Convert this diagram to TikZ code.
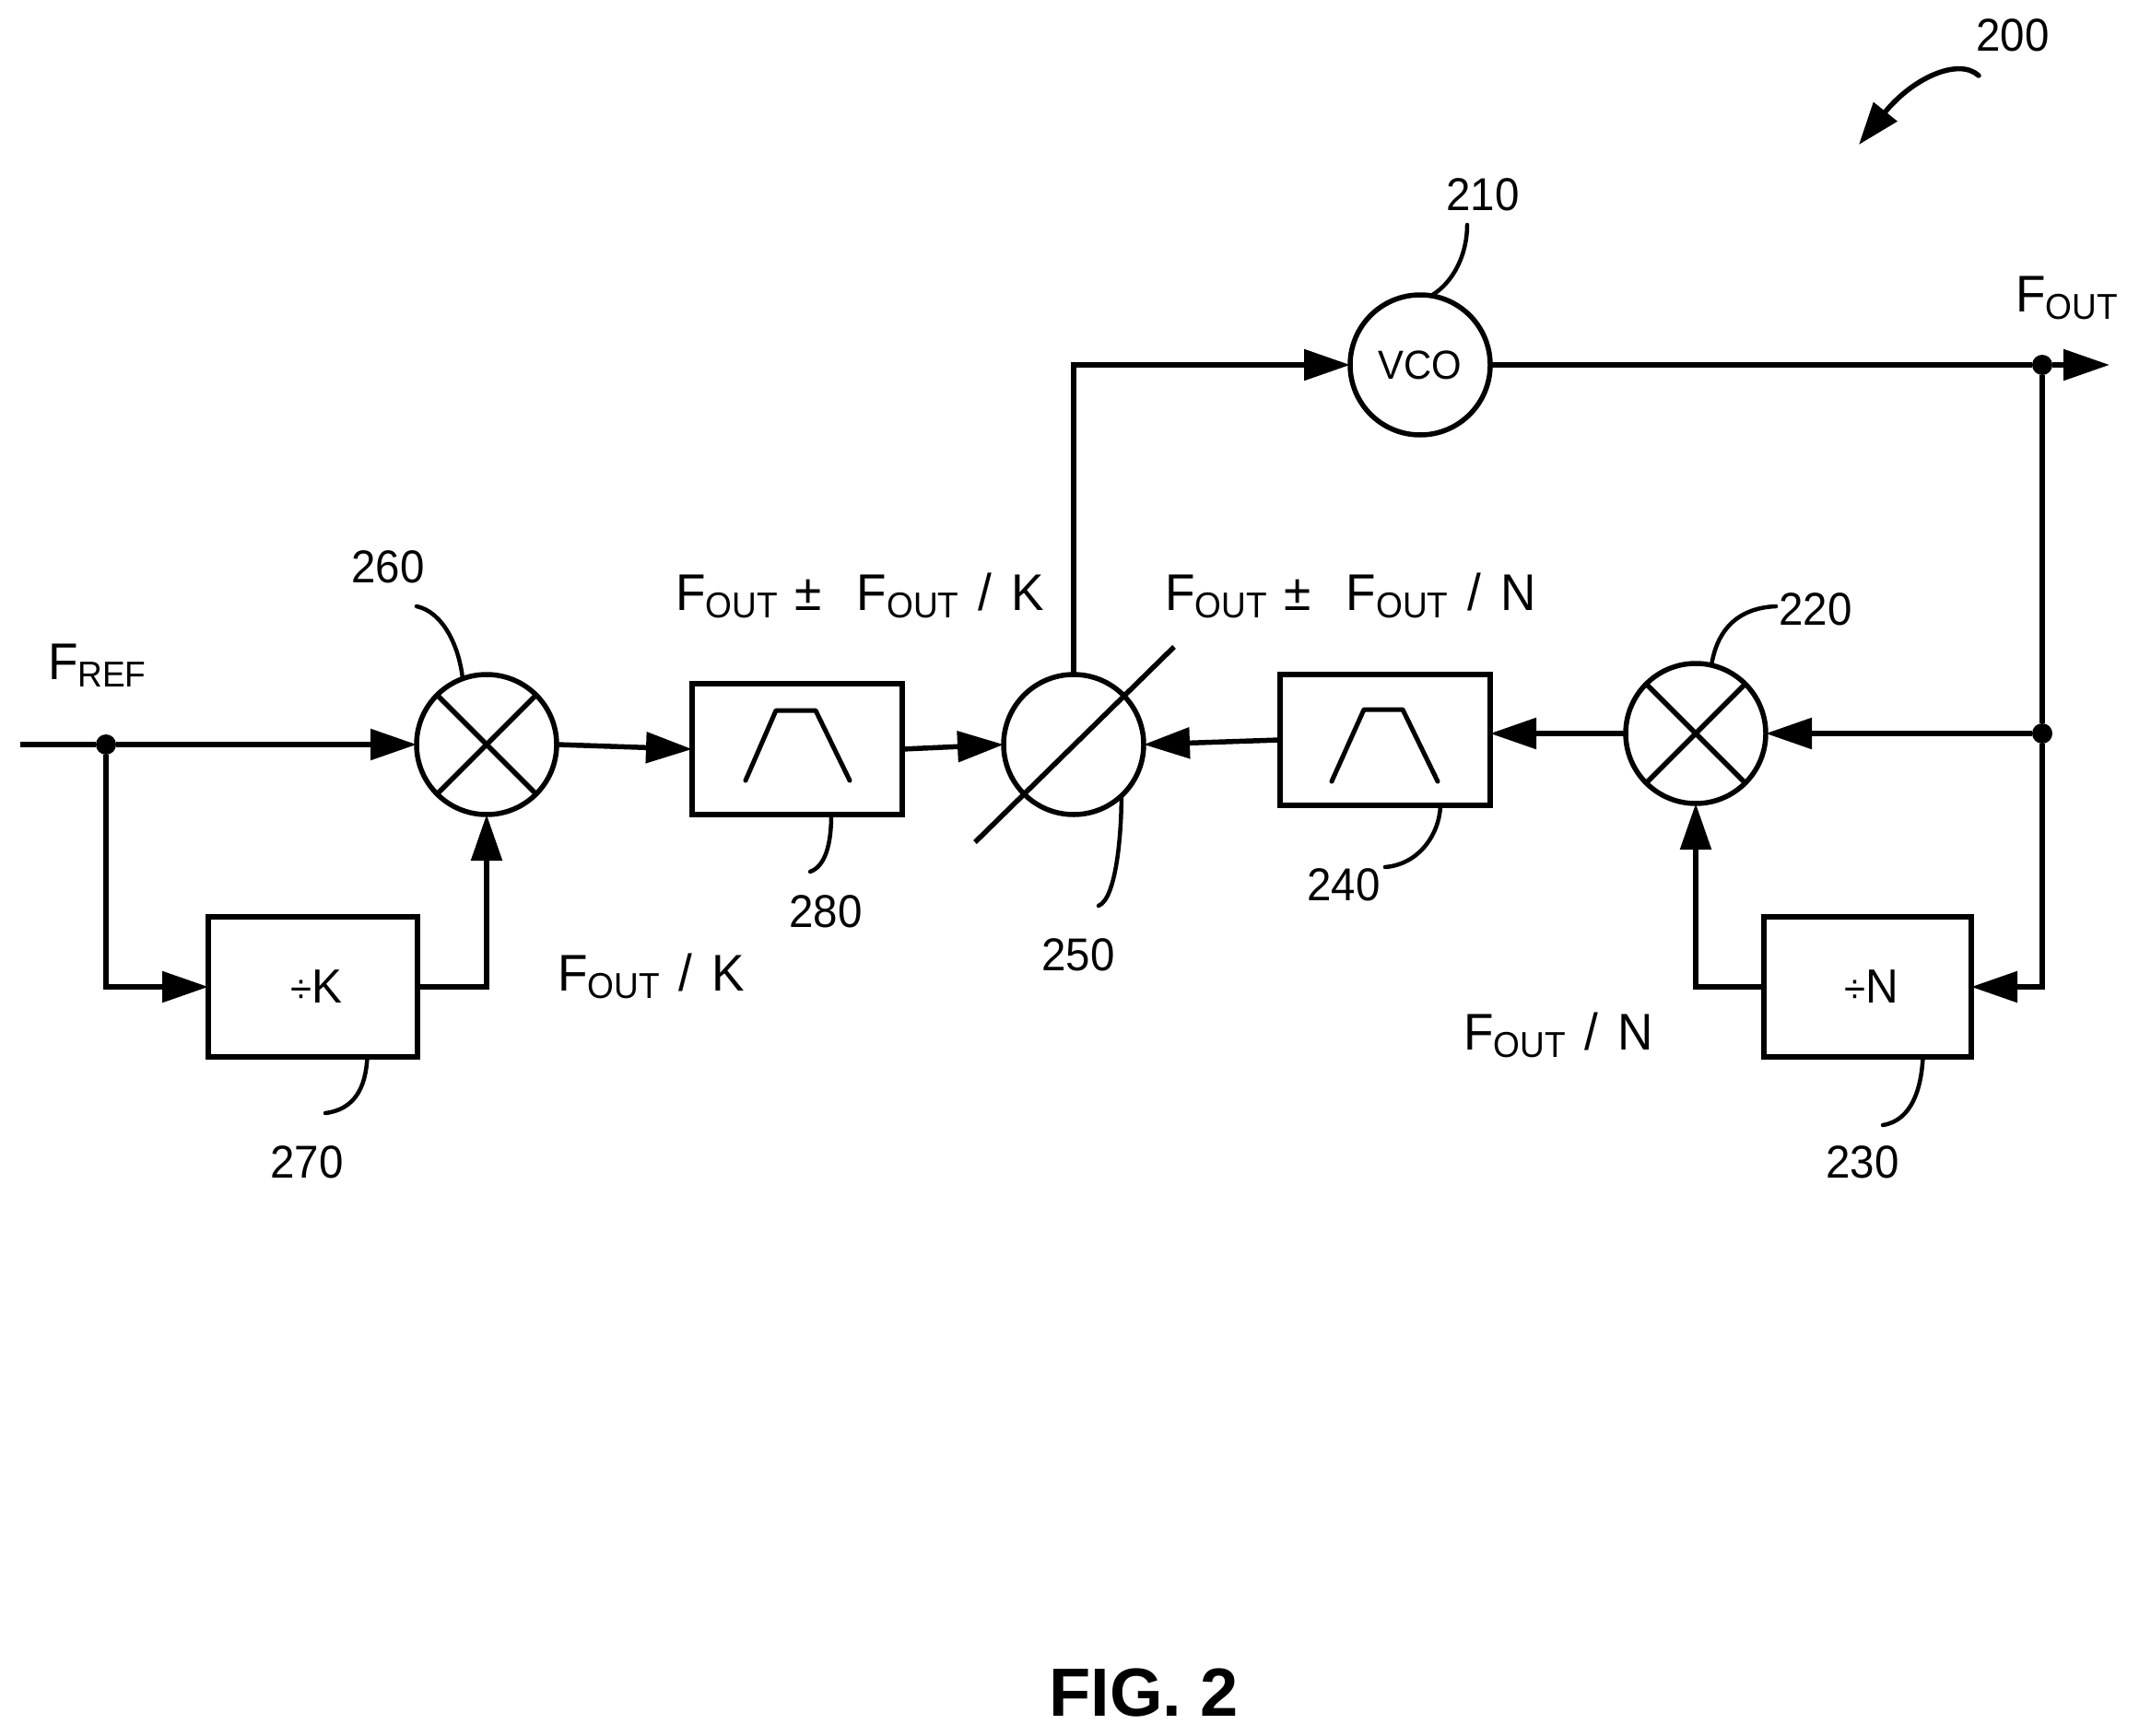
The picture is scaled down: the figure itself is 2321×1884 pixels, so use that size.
\documentclass[tikz,border=0pt]{standalone}
\usepackage{fontspec}
\setmainfont{Liberation Sans}
\newfontfamily\narrowf[FakeStretch=0.95]{Liberation Sans}
\usetikzlibrary{arrows.meta}
\newcommand{\mainsz}{\narrowf\fontsize{56}{60}\selectfont}
\newcommand{\fsub}[1]{\mainsz F\raisebox{-8pt}{\narrowf\fontsize{39}{40}\selectfont #1}}
\newcommand{\divby}[1]{\hspace{8pt}{\narrowf\fontsize{44}{46}\selectfont ÷}{\narrowf\fontsize{52}{54}\selectfont #1}}
\tikzset{
  wire/.style={line width=5.5pt},
  arr/.style={line width=5.5pt,-{Triangle[length=50pt,width=33pt]}},
  mixer/.style={circle,draw,line width=5.5pt,minimum size=152pt,inner sep=0pt,outer sep=0pt},
  block/.style={rectangle,draw,line width=6pt,inner sep=0pt,outer sep=0pt},
  joint/.style={circle,fill=black,minimum size=22pt,inner sep=0pt,outer sep=0pt},
  refnum/.style={inner sep=0pt,outer sep=0pt,font=\narrowf\fontsize{50}{54}\selectfont},
  signal/.style={inner sep=0pt,outer sep=0pt,anchor=base west},
  callout/.style={line width=4.5pt,line cap=round},
  passband/.style={line width=5pt,line cap=round,line join=round}
}
\begin{document}
\begin{tikzpicture}[x=1pt,y=-1pt]
\useasboundingbox (0,0) rectangle (2321,1884);
% components
\node[mixer] (mix260) at (528,808) {};
\node[mixer] (mix250) at (1165,808) {};
\node[mixer] (mix220) at (1840,796) {};
\node[mixer,font=\narrowf\fontsize{44}{46}\selectfont] (vco) at (1541,396) {VCO};
\node[block,minimum width=227pt,minimum height=152pt] (box270) at (339.5,1071) {\divby{K}};
\node[block,minimum width=228pt,minimum height=142pt] (box280) at (865,813) {};
\node[block,minimum width=228pt,minimum height=142pt] (box240) at (1503,803) {};
\node[block,minimum width=225pt,minimum height=152pt] (box230) at (2026.5,1071) {\divby{N}};
\node[joint] (dot1) at (115,808) {};
\node[joint] (dot2) at (2216,796) {};
\node[joint] (dot3) at (2216,396) {};
\coordinate (fin) at (22,808);
\coordinate (fout) at (2289,396);
% mixer crosses
\foreach \m in {mix260,mix220}{
  \draw[wire] (\m.45) -- (\m.225);
  \draw[wire] (\m.135) -- (\m.-45);
}
\draw[wire] (1274,702) -- (1058,914);
% pass band symbols
\draw[passband] (809,847) -- (842,771) -- (885,771) -- (922,847);
\draw[passband] (1445,848) -- (1480,770) -- (1522,770) -- (1560,848);
% connectors
\draw[wire] (fin) -- (dot1);
\draw[arr] (dot1) -- (mix260.west);
\draw[arr] (dot1) |- (box270.west);
\draw[arr] (box270.east) -| (mix260.south);
\draw[arr] (mix260.east) -- (box280.west);
\draw[arr] (box280.east) -- (mix250.west);
\draw[arr] (box240.west) -- (mix250.east);
\draw[arr] (mix220.west) -- (mix220.west -| box240.east);
\draw[arr] (dot2) -- (mix220.east);
\draw[arr] (box230.west) -| (mix220.south);
\draw[arr] (dot2) |- (box230.east);
\draw[wire] (dot3) -- (dot2);
\draw[arr] (mix250.north) |- (vco.west);
\draw[wire] (vco.east) -- (dot3);
\draw[arr] (dot3) -- (fout);
% callouts
\coordinate (c260) at (452,658);
\coordinate (c270) at (353,1208);
\coordinate (c280) at (879,946);
\coordinate (c250) at (1192,983);
\coordinate (c240) at (1503,941);
\coordinate (c230) at (2043,1221);
\coordinate (c220) at (1927,658);
\coordinate (c210) at (1592,244);
\coordinate (c200) at (2147,82);
\coordinate (t200) at (2017,157);
\draw[callout] (c260) .. controls (480,664) and (498,700) .. (mix260.110);
\draw[callout] ([xshift=59pt]box270.south) .. controls (397,1180) and (385,1204) .. (c270);
\draw[callout] ([xshift=37pt]box280.south) .. controls (902,915) and (896,940) .. (c280);
\draw[callout] (mix250.-47) .. controls (1217,900) and (1212,975) .. (c250);
\draw[callout] ([xshift=60pt]box240.south) .. controls (1562,905) and (1540,938) .. (c240);
\draw[callout] ([xshift=60pt]box230.south) .. controls (2085,1180) and (2075,1216) .. (c230);
\draw[callout] (mix220.77) .. controls (1862,690) and (1880,660) .. (c220);
\draw[callout] (c210) .. controls (1592,275) and (1578,306) .. (vco.81);
\draw[line width=5.5pt,line cap=round,-{Triangle[length=46pt,width=32pt]}] (c200) .. controls (2125,62) and (2075,85) .. (t200);
% reference numbers
\node[refnum] (n200) at (2184,38) {200};
\node[refnum] (n210) at (1609,211) {210};
\node[refnum] (n220) at (1970,661) {220};
\node[refnum] (n230) at (2021,1261) {230};
\node[refnum] (n240) at (1458,960) {240};
\node[refnum] (n250) at (1170,1036) {250};
\node[refnum] (n260) at (421,615) {260};
\node[refnum] (n270) at (333,1261) {270};
\node[refnum] (n280) at (896,989) {280};
% signal labels
\node[signal] (lref) at (52,737) {\fsub{REF}};
\node[signal] (lout) at (2187,338) {\fsub{OUT}};
\node[signal] (lk) at (605,1075) {\fsub{OUT}\hspace{21pt}{\mainsz /}\hspace{21pt}{\mainsz K}};
\node[signal] (ln) at (1588,1139) {\fsub{OUT}\hspace{21pt}{\mainsz /}\hspace{21pt}{\mainsz N}};
\node[signal] (lpk) at (733,662) {\fsub{OUT}\hspace{19pt}{\mainsz ±}\hspace{38pt}\fsub{OUT}\hspace{21pt}{\mainsz /}\hspace{21pt}{\mainsz K}};
\node[signal] (lpn) at (1264,662) {\fsub{OUT}\hspace{19pt}{\mainsz ±}\hspace{38pt}\fsub{OUT}\hspace{21pt}{\mainsz /}\hspace{21pt}{\mainsz N}};
\node[inner sep=0pt,outer sep=0pt,font=\fontsize{74}{80}\selectfont\bfseries] (fig) at (1241,1837) {FIG. 2};
\end{tikzpicture}
\end{document}
